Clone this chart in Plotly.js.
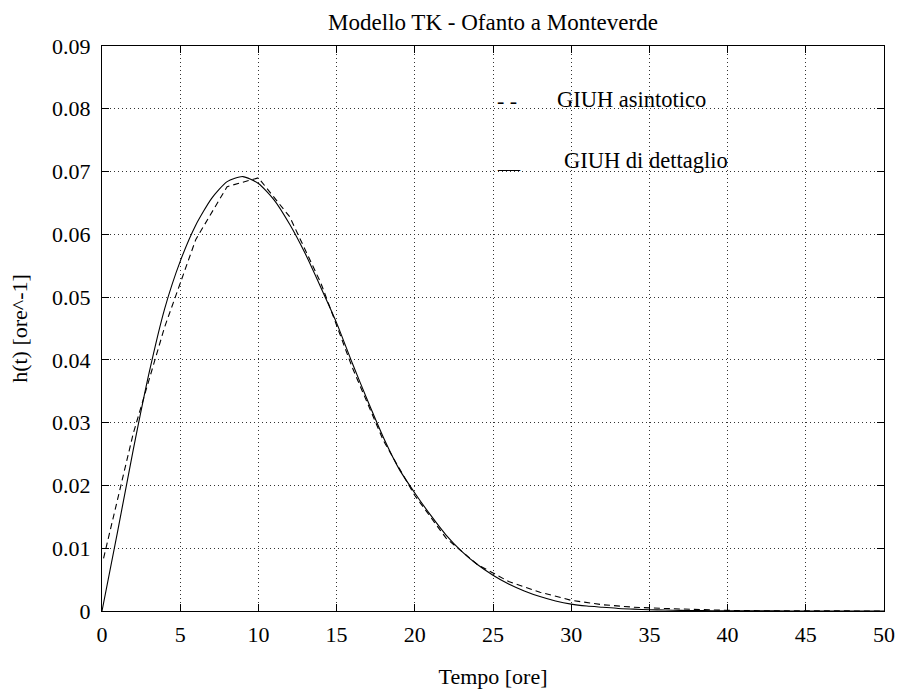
<!DOCTYPE html>
<html>
<head>
<meta charset="utf-8">
<script src="https://cdn.plot.ly/plotly-3.0.1.min.js"></script>
<style>html,body{margin:0;padding:0;background:#fff;}#chart{width:901px;height:693px;}</style>
</head>
<body>
<div id="chart"></div>
<script>
// GIUH di dettaglio (solid), hourly
const tDettaglio = [0,1,2,3,4,5,6,7,8,9,10,11,12,13,14,15,16,17,18,19,20,21,22,23,24,25,26,27,28,29,30,31,32,33,34,35,36,37,38,39,40,42,44,46,48,50];
const hDettaglio = [0,0.0127,0.0257,0.0378,0.0481,0.0557,0.0615,0.0657,0.0684,0.0692,0.0681,0.0655,0.0616,0.0569,0.0515,0.0459,0.0395,0.0334,0.0276,0.0226,0.0188,0.0153,0.0121,0.0095,0.0074,0.0057,0.0043,0.0032,0.0023,0.0016,0.0011,0.0008,0.0006,0.0004,0.0003,0.0002,0.00015,0.0001,0.00007,0.00005,0.00003,0.00002,0.00001,0,0,0];
// GIUH asintotico (dashed), every 2 hours
const tAsintotico = [0.1,2,4,6,8,10,12,14,16,18,20,22,24,26,28,30,32,34,36,38,40,42,44,46,48,50];
const hAsintotico = [0.0084,0.0283,0.0452,0.0592,0.0676,0.0690,0.0628,0.0522,0.0388,0.0271,0.0184,0.0116,0.0074,0.0047,0.0030,0.0017,0.0010,0.0006,0.0004,0.0002,0.0001,0.00005,0.00002,0.00001,0,0];

const F = "Liberation Serif";

const traces = [
  {x: tDettaglio, y: hDettaglio, mode: 'lines', line: {color: '#000', width: 1.1, shape: 'spline', smoothing: 0.6}, name: 'GIUH di dettaglio', hoverinfo: 'x+y'},
  {x: tAsintotico, y: hAsintotico, mode: 'lines', line: {color: '#000', width: 1.1, dash: '6px,4px'}, name: 'GIUH asintotico', hoverinfo: 'x+y'}
];

const axisCommon = {
  showline: true, linecolor: '#000', linewidth: 1, mirror: 'ticks',
  ticks: 'inside', ticklen: 7, tickcolor: '#000', tickwidth: 1,
  showgrid: true, gridcolor: '#333', gridwidth: 1, griddash: '1px,3px',
  zeroline: false, tickfont: {family: F, size: 22, color: '#000'}
};

const layout = {
  width: 901, height: 693,
  margin: {l: 102, r: 17, t: 46, b: 82},
  paper_bgcolor: '#fff', plot_bgcolor: '#fff',
  showlegend: false,
  font: {family: F, color: '#000'},
  title: {text: 'Modello TK - Ofanto a Monteverde', font: {family: F, size: 23, color: '#000'}, x: 0.5, xref: 'paper', y: 0.968, yref: 'container', yanchor: 'middle'},
  xaxis: Object.assign({}, axisCommon, {
    range: [0, 50], dtick: 5, tick0: 0, ticklabelstandoff: 4,
    title: {text: 'Tempo [ore]', font: {family: F, size: 22, color: '#000'}, standoff: 22}
  }),
  yaxis: Object.assign({}, axisCommon, {
    range: [0, 0.09], dtick: 0.01, tick0: 0, ticklabelstandoff: 6,
    title: {text: 'h(t) [ore^-1]', font: {family: F, size: 22, color: '#000'}, standoff: 18}
  }),
  annotations: [
    {xref: 'paper', yref: 'paper', x: 0.502, y: 0.904, xanchor: 'left', yanchor: 'middle', text: '- -', showarrow: false, font: {family: F, size: 22, color: '#000'}},
    {xref: 'paper', yref: 'paper', x: 0.579, y: 0.906, xanchor: 'left', yanchor: 'middle', text: 'GIUH asintotico', showarrow: false, font: {family: F, size: 22.5, color: '#000'}},
    {xref: 'paper', yref: 'paper', x: 0.502, y: 0.798, xanchor: 'left', yanchor: 'middle', text: '__', showarrow: false, font: {family: F, size: 22, color: '#000'}},
    {xref: 'paper', yref: 'paper', x: 0.588, y: 0.798, xanchor: 'left', yanchor: 'middle', text: 'GIUH di dettaglio', showarrow: false, font: {family: F, size: 22.5, color: '#000'}}
  ]
};

Plotly.newPlot('chart', traces, layout, {displayModeBar: false, staticPlot: true});
</script>
</body>
</html>
